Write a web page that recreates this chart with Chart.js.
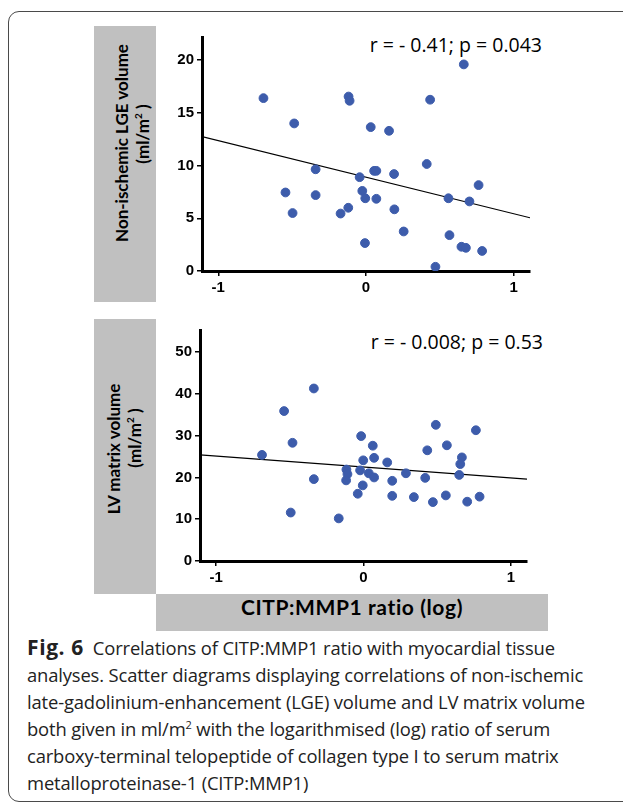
<!DOCTYPE html>
<html>
<head>
<meta charset="utf-8">
<script src="https://cdn.jsdelivr.net/npm/chart.js@4"></script>
<style>
  body { margin: 0; background: #fff; width: 623px; height: 803px; overflow: hidden; position: relative; }
  .frame { position: absolute; left: 8px; top: 11px; width: 660px; height: 789px; border: 1.5px solid #4a4a4a; border-radius: 11px; }
  .gray { position: absolute; background: #c0c0c0; }
  .ytitle { position: absolute; font: bold 17px Lato, sans-serif; line-height: 16px; text-align: center; color: #000; transform: rotate(-90deg); white-space: nowrap; }
  .xtitle { position: absolute; left: 156px; top: 594px; width: 392px; height: 37px; line-height: 37px; text-align: center; font: bold 21px Lato, sans-serif; letter-spacing: 0.6px; color: #000; }
  .stat { position: absolute; font: 19.5px "Open Sans", sans-serif; color: #000; white-space: nowrap; text-align: right; width: 250px; }
  .cap { position: absolute; left: 27px; top: 634px; font: 18.4px "Open Sans", sans-serif; line-height: 27.1px; color: #222; white-space: nowrap; letter-spacing: -0.15px; }
  .cap b { font-size: 21px; letter-spacing: 0.6px; margin-right: 9px; }
  canvas { position: absolute; }
</style>
</head>
<body>
<div class="frame"></div>
<div class="gray" style="left:94px;top:26px;width:62px;height:276px"></div>
<div class="gray" style="left:94px;top:319px;width:62px;height:275px"></div>
<div class="gray" style="left:156px;top:594px;width:392px;height:37px"></div>
<div class="ytitle" style="left:6px;top:126px;width:250px;height:34px">Non-ischemic LGE volume<br><span style="padding-left:18px">(ml/m<sup style="font-size:10px">2</sup> )</span></div>
<div class="ytitle" style="left:-2px;top:432px;width:250px;height:34px">LV matrix volume<br><span style="padding-left:22px">(ml/m<sup style="font-size:10px">2</sup> )</span></div>
<div class="xtitle">CITP:MMP1 ratio (log)</div>
<div class="stat" style="left:292px;top:31px">r = - 0.41; p = 0.043</div>
<div class="stat" style="left:293px;top:328px">r = - 0.008; p = 0.53</div>
<div class="cap"><b>Fig. 6</b>Correlations of CITP:MMP1 ratio with myocardial tissue<br>analyses. Scatter diagrams displaying correlations of non-ischemic<br>late-gadolinium-enhancement (LGE) volume and LV matrix volume<br>both given in ml/m<sup style="font-size:11px;line-height:0">2</sup> with the logarithmised (log) ratio of serum<br>carboxy-terminal telopeptide of collagen type I to serum matrix<br>metalloproteinase-1 (CITP:MMP1)</div>

<canvas id="lgeChart" style="left:150px;top:20px" width="400" height="285"></canvas>
<canvas id="matrixChart" style="left:150px;top:310px" width="400" height="285"></canvas>

<script>
// x: log CITP:MMP1 ratio, y: non-ischemic LGE volume (ml/m2)
const lgeX = [-0.694, -0.486, -0.118, -0.111, 0.032, 0.156, 0.434, 0.662, -0.341, -0.043,
  0.055, 0.07, 0.19, 0.411, 0.762, -0.545, -0.341, -0.025, -0.005, 0.07,
  0.558, 0.70, -0.497, -0.172, -0.12, 0.192, 0.255, -0.007, 0.565, 0.646,
  0.676, 0.786, 0.47];
const lgeY = [16.4, 14.0, 16.55, 16.15, 13.65, 13.3, 16.25, 19.6, 9.65, 8.9,
  9.5, 9.5, 9.2, 10.15, 8.15, 7.45, 7.2, 7.6, 6.9, 6.85,
  6.9, 6.6, 5.5, 5.45, 6.0, 5.85, 3.75, 2.65, 3.4, 2.3,
  2.2, 1.9, 0.4];
const lgeFitX = [-1.11, 1.11];
const lgeFitY = [12.75, 5.05];

// x: log CITP:MMP1 ratio, y: LV matrix volume (ml/m2)
const matrixX = [-0.689, -0.539, -0.337, -0.482, -0.337, -0.494, -0.168, -0.016, 0.063, 0.072,
  -0.002, -0.116, -0.109, -0.118, -0.023, 0.036, 0.072, -0.005, -0.039, 0.161,
  0.195, 0.195, 0.288, 0.342, 0.419, 0.433, 0.491, 0.471, 0.566, 0.559,
  0.668, 0.657, 0.65, 0.704, 0.763, 0.788];
const matrixY = [25.4, 35.9, 41.3, 28.3, 19.6, 11.6, 10.2, 29.9, 27.6, 24.7,
  24.1, 21.9, 20.8, 19.3, 21.7, 21.0, 20.0, 18.1, 16.1, 23.6,
  19.2, 15.6, 21.0, 15.3, 19.9, 26.5, 32.6, 14.1, 27.7, 15.7,
  24.8, 23.2, 20.6, 14.2, 31.3, 15.4];
const matrixFitX = [-1.11, 1.11];
const matrixFitY = [25.4, 19.6];

const xTicks = [-1, 0, 1];
const lgeYTicks = [0, 5, 10, 15, 20];
const matrixYTicks = [0, 10, 20, 30, 40, 50];

const pointColor = '#3d5cab';
const tickFont = { family: 'Liberation Sans', size: 15, weight: 'bold' };

function pts(xs, ys) {
  return xs.map((x, i) => ({ x: x, y: ys[i] }));
}

function makeScatter(id, xs, ys, fitX, fitY, yTicks, yMax, yWidth, pad) {
  return new Chart(document.getElementById(id), {
    type: 'scatter',
    data: {
      datasets: [
        { data: pts(xs, ys), backgroundColor: pointColor, borderColor: pointColor, pointRadius: 4.4, pointHoverRadius: 4.4 },
        { data: pts(fitX, fitY), showLine: true, borderColor: '#000', borderWidth: 1.2, pointRadius: 0, fill: false }
      ]
    },
    options: {
      responsive: false,
      animation: false,
      layout: { padding: pad },
      plugins: { legend: { display: false }, tooltip: { enabled: false } },
      scales: {
        x: {
          type: 'linear', min: -1.11, max: 1.11,
          afterBuildTicks: s => { s.ticks = xTicks.map(v => ({ value: v })); },
          afterFit: s => { s.height = 34; },
          grid: { drawOnChartArea: false, drawTicks: true, tickLength: 5, color: '#000', lineWidth: 1.5 },
          border: { color: '#000', width: 3 },
          ticks: { color: '#000', font: tickFont, padding: 3, maxRotation: 0 }
        },
        y: {
          type: 'linear', min: 0, max: yMax,
          afterBuildTicks: s => { s.ticks = yTicks.map(v => ({ value: v })); },
          afterFit: s => { s.width = yWidth; },
          grid: { drawOnChartArea: false, drawTicks: true, tickLength: 5, color: '#000', lineWidth: 1.5 },
          border: { color: '#000', width: 3 },
          ticks: { color: '#000', font: tickFont, padding: 3 }
        }
      }
    }
  });
}

makeScatter('lgeChart', lgeX, lgeY, lgeFitX, lgeFitY, lgeYTicks, 22.2, 52, { top: 17, right: 20, left: 0, bottom: 0 });
makeScatter('matrixChart', matrixX, matrixY, matrixFitX, matrixFitY, matrixYTicks, 55.3, 50, { top: 20, right: 23, left: 0, bottom: 0 });
</script>
</body>
</html>
